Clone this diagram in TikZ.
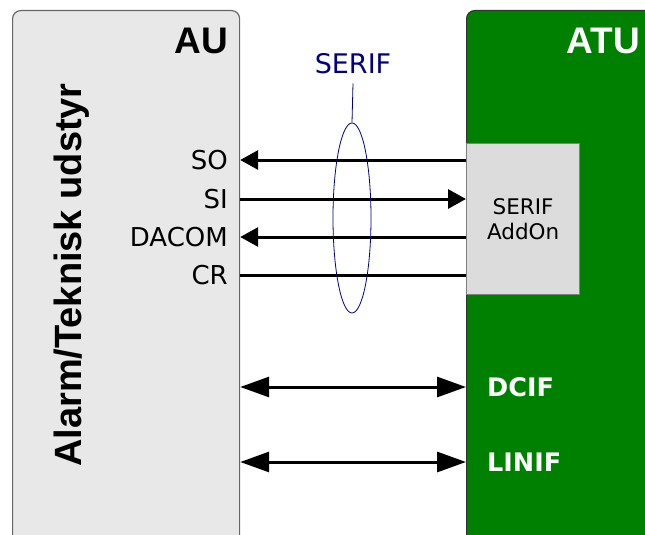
\documentclass[tikz,border=0pt]{standalone}
\usepackage{fontspec}
\setmainfont{DejaVu Sans}
\newfontfamily\arialfont{Liberation Sans}
\usetikzlibrary{arrows.meta,shapes.geometric}
\definecolor{aufill}{HTML}{E8E8E8}
\definecolor{atugreen}{HTML}{008000}
\definecolor{addonfill}{HTML}{DCDCDC}
\definecolor{serifblue}{HTML}{000080}
\tikzstyle{unitbox}=[draw=black!60,line width=1.2pt,rounded corners=8pt,anchor=north west,inner sep=0pt]
\tikzstyle{sig}=[line width=3pt,-]
\tikzstyle{sigl}=[anchor=east,inner sep=1pt,font=\fontsize{26}{30}\selectfont]
\tikzstyle{ifl}=[anchor=west,inner sep=1pt,text=white,font=\fontsize{25.5}{30}\selectfont\bfseries]
\tikzstyle{unitl}=[anchor=north east,inner sep=1pt,font=\arialfont\fontsize{37}{42}\selectfont\bfseries]

\begin{document}
\begin{tikzpicture}[x=1pt,y=-1pt]
    \useasboundingbox (0,0) rectangle (645,535);
    \clip (0,0) rectangle (645,535);
    \node[unitbox,fill=aufill,minimum width=227pt,minimum height=545pt] (au) at (12,10) {};
    \node[unitbox,fill=atugreen,draw=black!80,minimum width=200pt,minimum height=545pt] (atu) at (466,10) {};
    \node[draw=black!50,line width=1.2pt,fill=addonfill,minimum width=113pt,minimum height=151pt,anchor=north west,
          align=center,font=\fontsize{21.5}{25}\selectfont] (addon) at (466,143) {SERIF\\AddOn};

    \node[unitl] (aul) at (229,27) {AU};
    \node[unitl,text=white] (atul) at (641,27) {ATU};
    \node[rotate=90,font=\arialfont\fontsize{38}{44}\selectfont\bfseries] (aut) at (72,275) {Alarm/Teknisk udstyr};

    \node[sigl] (so) at (229,160) {SO};
    \node[sigl] (si) at (229,199) {SI};
    \node[sigl] (dacom) at (229,237) {DACOM};
    \node[sigl] (cr) at (229,275) {CR};

    \node[ifl] (dcif) at (486,387) {DCIF};
    \node[ifl] (linif) at (486,462) {LINIF};

    \draw[sig,-{Triangle[length=18pt,width=19pt]}] (addon.west |- so) -- (au.east |- so);
    \draw[sig,-{Triangle[length=18pt,width=19pt]}] (au.east |- si) -- (addon.west |- si);
    \draw[sig,-{Triangle[length=18pt,width=19pt]}] (addon.west |- dacom) -- (au.east |- dacom);
    \draw[sig] (addon.west |- cr) -- (au.east |- cr);

    \draw[sig,{Triangle[length=29pt,width=20pt]}-{Triangle[length=29pt,width=20pt]}] (au.east |- dcif) -- (atu.west |- dcif);
    \draw[sig,{Triangle[length=29pt,width=20pt]}-{Triangle[length=29pt,width=20pt]}] (au.east |- linif) -- (atu.west |- linif);

    % bus ring with its label
    \node[ellipse,draw=serifblue,line width=0.8pt,minimum width=38pt,minimum height=190pt,inner sep=0pt] (bus) at (352,218) {};
    \node[text=serifblue,inner sep=1pt,font=\fontsize{27}{30}\selectfont] (serif) at (353,64) {SERIF};
    \draw[serifblue,line width=0.8pt] (bus.north) -- ([yshift=-8pt]serif.south);
\end{tikzpicture}
\end{document}
